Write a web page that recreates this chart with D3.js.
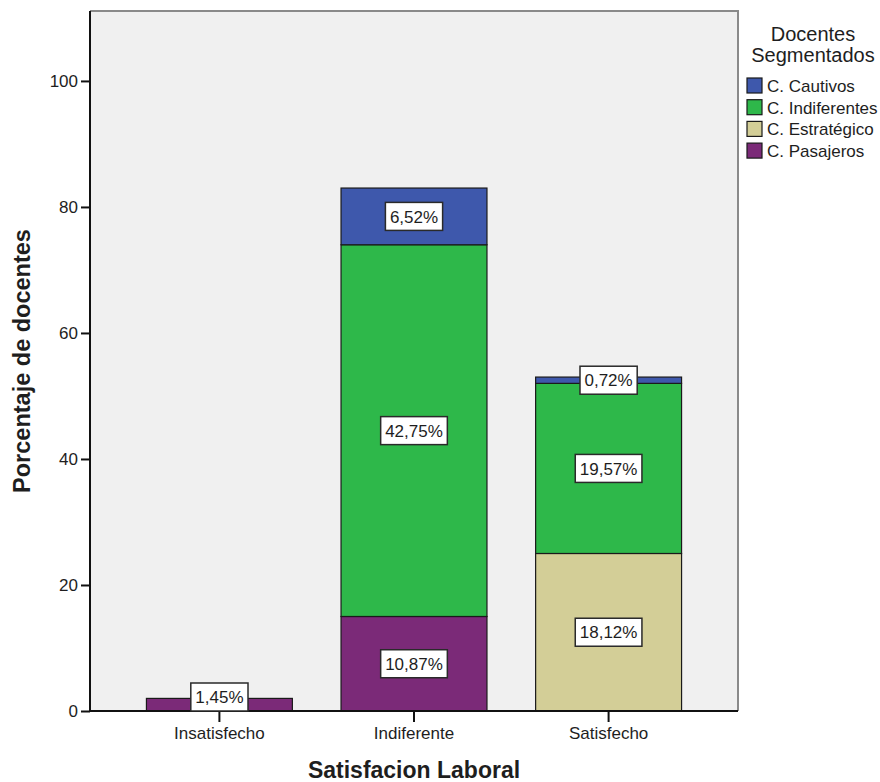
<!DOCTYPE html>
<html>
<head>
<meta charset="utf-8">
<script src="https://cdn.jsdelivr.net/npm/d3@7"></script>
<style>
  html, body { margin: 0; padding: 0; background: #ffffff; }
  svg { display: block; }
  text { font-family: "Liberation Sans", Arial, sans-serif; fill: #1e1e1e; }
</style>
</head>
<body>
<svg id="chart" width="880" height="782"></svg>
<script>
// Satisfacción laboral por segmento docente (n = 138)
const categories = ["Insatisfecho", "Indiferente", "Satisfecho"];
const seriesNames = ["C. Pasajeros", "C. Estratégico", "C. Indiferentes", "C. Cautivos"];
const seriesColors = ["#7b2a78", "#d3ce97", "#2eb84a", "#3e58ac"];
// number of teachers in each segment, per satisfaction level
const pasajeros = [2, 15, 0];
const estrategico = [0, 0, 25];
const indiferentes = [0, 59, 27];
const cautivos = [0, 9, 1];
const totalDocentes = 138;
const yTicks = [0, 20, 40, 60, 80, 100];
const legendOrder = ["C. Cautivos", "C. Indiferentes", "C. Estratégico", "C. Pasajeros"];

const seriesValues = [pasajeros, estrategico, indiferentes, cautivos];
const rows = categories.map((c, i) => {
  const r = { cat: c };
  seriesNames.forEach((s, k) => { r[s] = seriesValues[k][i]; });
  return r;
});

const svg = d3.select("#chart");
const plot = { left: 90, right: 738, top: 11, bottom: 711 };

const x = d3.scaleBand()
  .domain(categories)
  .range([plot.left, plot.right])
  .paddingInner(0.25)
  .paddingOuter(0.29);

const y = d3.scaleLinear()
  .domain([0, 111.1])
  .range([plot.bottom, plot.top]);

const color = d3.scaleOrdinal().domain(seriesNames).range(seriesColors);

const esLocale = d3.formatLocale({ decimal: ",", thousands: ".", grouping: [3], currency: ["", " €"] });
const pct = v => esLocale.format(".2f")(v / totalDocentes * 100) + "%";

// plot background
svg.append("rect")
  .attr("x", plot.left).attr("y", plot.top)
  .attr("width", plot.right - plot.left).attr("height", plot.bottom - plot.top)
  .attr("fill", "#f0f0f0");

// frame: top and right edges
svg.append("path")
  .attr("d", `M${plot.left},${plot.top}H${plot.right}V${plot.bottom}`)
  .attr("fill", "none").attr("stroke", "#8a8a8a").attr("stroke-width", 2);

// stacked bars
const stacked = d3.stack().keys(seriesNames)(rows);
const layers = svg.append("g").selectAll("g")
  .data(stacked).join("g")
  .attr("fill", d => color(d.key));

layers.selectAll("rect")
  .data(d => d.filter(p => p[1] - p[0] > 0))
  .join("rect")
  .attr("x", d => x(d.data.cat))
  .attr("width", x.bandwidth())
  .attr("y", d => y(d[1]))
  .attr("height", d => y(d[0]) - y(d[1]))
  .attr("stroke", "#1a1a1a")
  .attr("stroke-width", 1.2);

// axes
const yAxis = svg.append("g")
  .attr("transform", `translate(${plot.left},0)`)
  .call(d3.axisLeft(y).tickValues(yTicks).tickSize(9).tickPadding(3).tickFormat(d3.format("d")));
yAxis.select(".domain").attr("stroke", "#111").attr("stroke-width", 2)
  .attr("d", `M0,${plot.top}V${plot.bottom}`);
yAxis.selectAll(".tick line").attr("stroke", "#111").attr("stroke-width", 2);
yAxis.selectAll(".tick text").attr("font-size", 17).attr("fill", "#1e1e1e")
  .style("font-family", "'Liberation Sans', Arial, sans-serif");

const xAxis = svg.append("g")
  .attr("transform", `translate(0,${plot.bottom})`)
  .call(d3.axisBottom(x).tickSize(11).tickPadding(5));
xAxis.select(".domain").attr("stroke", "#111").attr("stroke-width", 2)
  .attr("d", `M${plot.left},0H${plot.right}`);
xAxis.selectAll(".tick line").attr("stroke", "#111").attr("stroke-width", 2);
xAxis.selectAll(".tick text").attr("font-size", 17).attr("fill", "#1e1e1e")
  .style("font-family", "'Liberation Sans', Arial, sans-serif");

// value labels in boxes
const labelData = [];
stacked.forEach(layer => layer.forEach(p => {
  const v = p[1] - p[0];
  if (v > 0) labelData.push({ cat: p.data.cat, lo: p[0], hi: p[1], v });
}));
const lbl = svg.append("g").selectAll("g").data(labelData).join("g");
lbl.each(function (d) {
  const g = d3.select(this);
  const cx = x(d.cat) + x.bandwidth() / 2;
  const boxH = 28;
  let cy = y((d.lo + d.hi) / 2);
  if (cy + boxH / 2 > plot.bottom) cy = plot.bottom - boxH / 2;
  const rect = g.append("rect");
  const t = g.append("text")
    .attr("x", cx).attr("y", cy)
    .attr("text-anchor", "middle").attr("dy", "0.36em")
    .attr("font-size", 17)
    .text(pct(d.v));
  const w = t.node().getComputedTextLength() + 9;
  rect.attr("x", cx - w / 2).attr("y", cy - boxH / 2)
    .attr("width", w).attr("height", boxH)
    .attr("fill", "#ffffff").attr("stroke", "#2a2a2a").attr("stroke-width", 1.5);
});

// axis titles
svg.append("text")
  .attr("x", 414).attr("y", 778)
  .attr("text-anchor", "middle").attr("font-size", 23).attr("font-weight", "bold")
  .text("Satisfacion Laboral");

svg.append("text")
  .attr("transform", `translate(30,${361}) rotate(-90)`)
  .attr("text-anchor", "middle").attr("font-size", 23.5).attr("font-weight", "bold")
  .text("Porcentaje de docentes");

// legend
const legend = svg.append("g");
legend.append("text").attr("x", 813).attr("y", 41)
  .attr("text-anchor", "middle").attr("font-size", 20).text("Docentes");
legend.append("text").attr("x", 813).attr("y", 62)
  .attr("text-anchor", "middle").attr("font-size", 20).text("Segmentados");

const items = legend.selectAll("g.item").data(legendOrder).join("g")
  .attr("class", "item")
  .attr("transform", (d, i) => `translate(747,${78 + i * 21.7})`);
items.append("rect")
  .attr("width", 15).attr("height", 15)
  .attr("fill", d => color(d)).attr("stroke", "#1a1a1a").attr("stroke-width", 1.2);
items.append("text")
  .attr("x", 20).attr("y", 14)
  .attr("font-size", 17).text(d => d);
</script>
</body>
</html>
